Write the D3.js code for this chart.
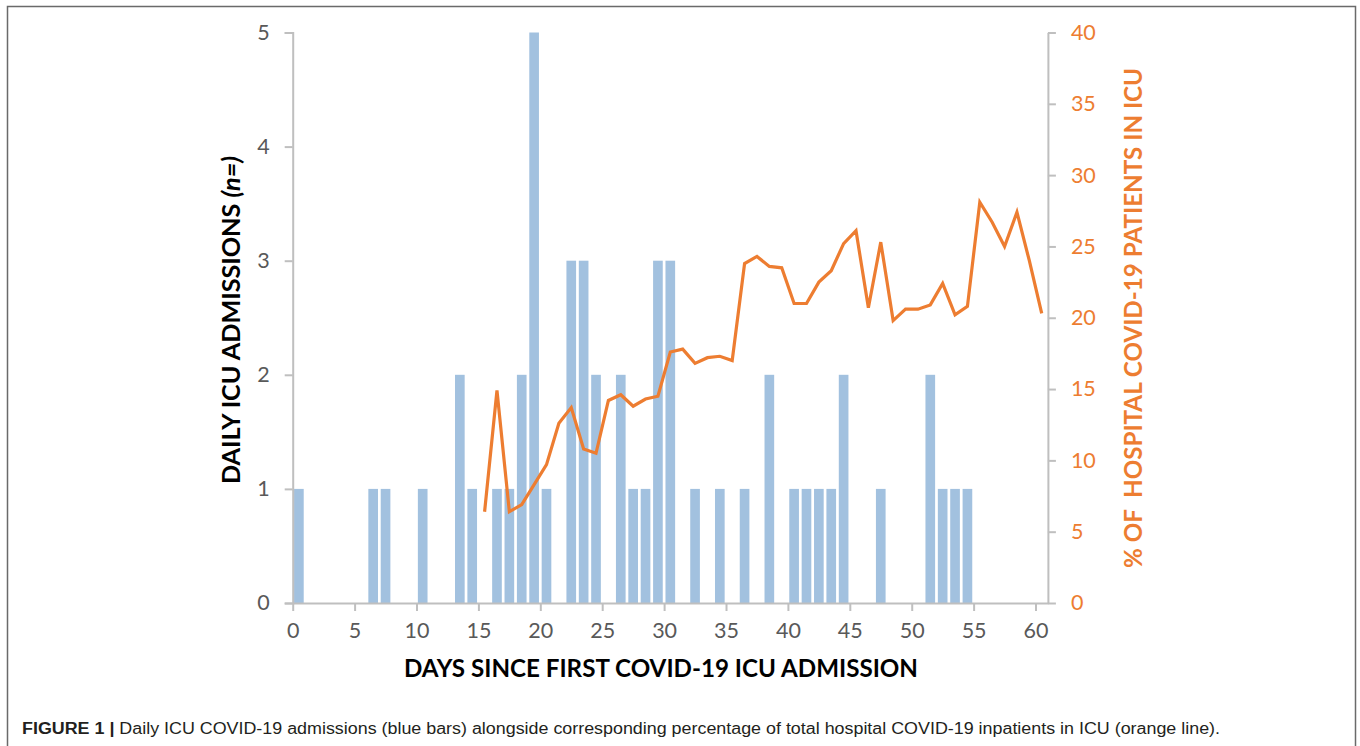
<!DOCTYPE html>
<html>
<head>
<meta charset="utf-8">
<script src="https://cdn.jsdelivr.net/npm/d3@7"></script>
<style>
  html, body { margin: 0; padding: 0; background: #fff; }
  svg { display: block; }
</style>
</head>
<body>
<svg id="chart" width="1360" height="746"></svg>
<script>
// ---- DATA ----
const days = [0,1,2,3,4,5,6,7,8,9,10,11,12,13,14,15,16,17,18,19,20,21,22,23,24,25,26,27,28,29,30,
              31,32,33,34,35,36,37,38,39,40,41,42,43,44,45,46,47,48,49,50,51,52,53,54,55,56,57,58,59,60];
const admissions = [1,0,0,0,0,0,1,1,0,0,1,0,0,2,1,0,1,1,2,5,1,0,3,3,2,0,2,1,1,3,3,
                    0,1,0,1,0,1,0,2,0,1,1,1,1,2,0,0,1,0,0,0,2,1,1,1,0,0,0,0,0,0];
const pctICU = [null,null,null,null,null,null,null,null,null,null,null,null,null,null,null,
                6.4,14.9,6.4,6.9,8.3,9.7,12.6,13.7,10.8,10.5,14.2,14.6,13.8,14.3,14.5,17.6,
                17.8,16.8,17.2,17.3,17.0,23.8,24.3,23.6,23.5,21.0,21.0,22.5,23.3,25.2,26.1,
                20.7,25.3,19.8,20.6,20.6,20.9,22.4,20.2,20.8,28.1,26.7,25.0,27.4,24.0,20.3];
const xTicks = [0,5,10,15,20,25,30,35,40,45,50,55,60];
const yLeftTicks = [0,1,2,3,4,5];
const yRightTicks = [0,5,10,15,20,25,30,35,40];

(function () {
// ---- LAYOUT ----
const svg = d3.select("#chart");
const pLeft = 292.7, pRight = 1047.9, pTop = 32.5, pBottom = 603;
const axisColor = "#bfbfbf", labelColor = "#595959", orange = "#ed7d31", barColor = "#a2c1df";
const tickFont = "Lato, 'Open Sans', sans-serif";

// frame
svg.append("rect").attr("x", 7.5).attr("y", 6.5).attr("width", 1348).attr("height", 800)
  .attr("fill", "none").attr("stroke", "#6a6a6a").attr("stroke-width", 1.5);

const xLin = d3.scaleLinear().domain([0, 61]).range([pLeft, pRight]);
const xBand = d3.scaleBand().domain(days).range([pLeft, pRight]).paddingInner(0.22).paddingOuter(0.11);
const yL = d3.scaleLinear().domain([0, 5]).range([pBottom, pTop]);
const yR = d3.scaleLinear().domain([0, 40]).range([pBottom, pTop]);

// bars
svg.append("g").selectAll("rect").data(days.filter((d, i) => admissions[i] > 0)).join("rect")
  .attr("x", d => xBand(d))
  .attr("width", xBand.bandwidth())
  .attr("y", d => yL(admissions[d]))
  .attr("height", d => yL(0) - yL(admissions[d]))
  .attr("fill", barColor);

function styleAxis(g, color) {
  g.select(".domain").attr("stroke", axisColor).attr("stroke-width", 2);
  g.selectAll(".tick line").attr("stroke", axisColor).attr("stroke-width", 2);
  g.selectAll(".tick text").attr("fill", color).attr("font-family", tickFont).attr("font-size", 21.5);
}

// left axis
const gL = svg.append("g").attr("transform", `translate(${pLeft},0)`)
  .call(d3.axisLeft(yL).tickValues(yLeftTicks).tickFormat(d3.format("d"))
    .tickSizeInner(8).tickSizeOuter(8).tickPadding(15));
styleAxis(gL, labelColor);

// right axis
const gR = svg.append("g").attr("transform", `translate(${pRight},0)`)
  .call(d3.axisRight(yR).tickValues(yRightTicks).tickFormat(d3.format("d"))
    .tickSizeInner(8).tickSizeOuter(0).tickPadding(15));
styleAxis(gR, orange);

// bottom axis
const gB = svg.append("g").attr("transform", `translate(0,${pBottom})`)
  .call(d3.axisBottom(xLin).tickValues(xTicks).tickFormat(d3.format("d"))
    .tickSizeInner(8).tickSizeOuter(0).tickPadding(12));
styleAxis(gB, labelColor);

// line
const line = d3.line()
  .defined((d, i) => pctICU[i] !== null)
  .x(d => xBand(d) + xBand.bandwidth() / 2)
  .y((d, i) => yR(pctICU[i]));
svg.append("path").datum(days).attr("d", line)
  .attr("fill", "none").attr("stroke", orange).attr("stroke-width", 3.2)
  .attr("stroke-linejoin", "miter").attr("stroke-linecap", "butt");

// axis titles
const titleFont = "Lato, 'Open Sans', sans-serif";
svg.append("text").attr("x", 661).attr("y", 677).attr("text-anchor", "middle")
  .attr("font-family", titleFont).attr("font-weight", 700).attr("font-size", 24)
  .attr("textLength", 514).attr("lengthAdjust", "spacingAndGlyphs")
  .text("DAYS SINCE FIRST COVID-19 ICU ADMISSION");

const lt = svg.append("text").attr("transform", "translate(240,320) rotate(-90)")
  .attr("text-anchor", "middle")
  .attr("font-family", titleFont).attr("font-weight", 700).attr("font-size", 25)
  .attr("textLength", 328).attr("lengthAdjust", "spacingAndGlyphs");
lt.append("tspan").text("DAILY ICU ADMISSIONS ");
lt.append("tspan").attr("font-style", "italic").text("(n=)");

svg.append("text").attr("transform", "translate(1142,318) rotate(-90)")
  .attr("text-anchor", "middle").attr("fill", orange)
  .attr("font-family", titleFont).attr("font-weight", 700).attr("font-size", 25)
  .attr("textLength", 500).attr("lengthAdjust", "spacingAndGlyphs")
  .style("white-space", "pre")
  .text("% OF  HOSPITAL COVID-19 PATIENTS IN ICU");

// caption
const cap = svg.append("text").attr("x", 22).attr("y", 734)
  .attr("font-family", "'Liberation Sans', Arial, sans-serif").attr("font-size", 16).attr("fill", "#231f20")
  .attr("textLength", 1198).attr("lengthAdjust", "spacingAndGlyphs");
cap.append("tspan").attr("font-weight", 700).text("FIGURE 1 | ");
cap.append("tspan").text("Daily ICU COVID-19 admissions (blue bars) alongside corresponding percentage of total hospital COVID-19 inpatients in ICU (orange line).");
})();
</script>
</body>
</html>
